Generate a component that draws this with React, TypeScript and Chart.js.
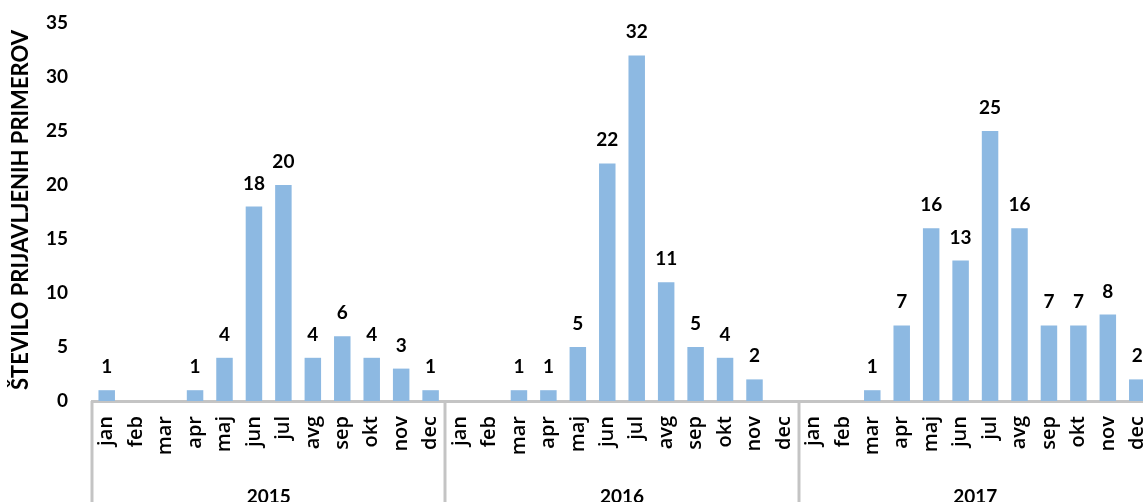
import React, { useEffect, useRef } from "react";
import { Chart, registerables } from "chart.js";

Chart.register(...registerables);

// Monthly reported cases, 2015–2017
const months = ["jan", "feb", "mar", "apr", "maj", "jun", "jul", "avg", "sep", "okt", "nov", "dec"];
const years = ["2015", "2016", "2017"];
const cases2015 = [1, 0, 0, 1, 4, 18, 20, 4, 6, 4, 3, 1];
const cases2016 = [0, 0, 1, 1, 5, 22, 32, 11, 5, 4, 2, 0];
const cases2017 = [0, 0, 1, 7, 16, 13, 25, 16, 7, 7, 8, 2];
const yTicks = [0, 5, 10, 15, 20, 25, 30, 35];
const axisTitle = "ŠTEVILO PRIJAVLJENIH PRIMEROV";

const FONT = "Lato, 'Open Sans', sans-serif";
const MONTH_FONT = "'Open Sans', Lato, sans-serif";
const LINE = "#c4c4c4";
const BAR = "#8db9e2";
const W = 1154;
const H = 512;
const TOP = 23;
const AXIS_Y = 401;

const labels = years.flatMap(() => months);
const values = [...cases2015, ...cases2016, ...cases2017];

// Value labels above the bars, year group captions and separators
const decorations = {
  id: "decorations",
  afterDatasetsDraw(chart: any) {
    const { ctx } = chart;
    const meta = chart.getDatasetMeta(0);
    ctx.save();
    ctx.fillStyle = "#000";
    ctx.textAlign = "center";
    ctx.textBaseline = "alphabetic";
    ctx.font = `bold 19px ${FONT}`;
    meta.data.forEach((bar: any, i: number) => {
      const v = values[i];
      if (v > 0) ctx.fillText(String(v), bar.x, bar.y - 17);
    });

    const x = chart.scales.x;
    const step = x.getPixelForValue(1) - x.getPixelForValue(0);
    ctx.strokeStyle = LINE;
    ctx.lineWidth = 3;
    for (let g = 0; g <= years.length; g++) {
      const bx = Math.round(x.getPixelForValue(g * months.length) - step / 2);
      ctx.beginPath();
      ctx.moveTo(bx, AXIS_Y);
      ctx.lineTo(bx, H);
      ctx.stroke();
    }
    ctx.font = `bold 19px ${FONT}`;
    ctx.textBaseline = "middle";
    years.forEach((yr, g) => {
      const a = x.getPixelForValue(g * months.length);
      const b = x.getPixelForValue(g * months.length + months.length - 1);
      ctx.fillText(yr, (a + b) / 2, 497);
    });

    ctx.translate(21, 210);
    ctx.rotate(-Math.PI / 2);
    ctx.font = `bold 22px ${FONT}`;
    ctx.fillText(axisTitle, 0, 0);
    ctx.restore();
  },
};

export default function App() {
  const ref = useRef<HTMLCanvasElement>(null);

  useEffect(() => {
    if (!ref.current) return;
    const chart = new Chart(ref.current, {
      type: "bar",
      data: {
        labels,
        datasets: [
          {
            data: values,
            backgroundColor: BAR,
            borderWidth: 0,
            categoryPercentage: 1,
            barPercentage: 0.56,
          },
        ],
      },
      options: {
        responsive: false,
        animation: false,
        devicePixelRatio: 1,
        layout: { padding: { top: TOP, right: 2, left: 0, bottom: 0 } },
        plugins: { legend: { display: false }, tooltip: { enabled: false } },
        scales: {
          x: {
            offset: true,
            grid: { display: false, drawTicks: false },
            border: { display: true, color: LINE, width: 3 },
            ticks: {
              autoSkip: false,
              minRotation: 90,
              maxRotation: 90,
              padding: 15,
              color: "#000",
              font: { family: MONTH_FONT, size: 20, weight: "600" },
            },
            afterFit(scale: any) {
              scale.height = H - AXIS_Y;
              scale.paddingLeft = 0;
              scale.paddingRight = 0;
              scale.paddingTop = 0;
              scale.paddingBottom = 0;
            },
          },
          y: {
            min: 0,
            max: 35,
            afterBuildTicks(scale: any) {
              scale.ticks = yTicks.map((v) => ({ value: v }));
            },
            grid: { display: false, drawTicks: false },
            border: { display: false },
            ticks: {
              padding: 24,
              color: "#000",
              font: { family: FONT, size: 19, weight: "bold" },
            },
            afterFit(scale: any) {
              scale.width = 92;
              scale.paddingLeft = 0;
              scale.paddingRight = 0;
              scale.paddingTop = 0;
              scale.paddingBottom = 0;
            },
          },
        },
      },
      plugins: [decorations],
    });
    return () => chart.destroy();
  }, []);

  return (
    <div
      style={{
        position: "fixed",
        left: 0,
        top: 0,
        width: 1143,
        height: 502,
        overflow: "hidden",
        background: "#fff",
      }}
    >
      <canvas ref={ref} width={W} height={H} style={{ display: "block", width: W, height: H }} />
    </div>
  );
}
